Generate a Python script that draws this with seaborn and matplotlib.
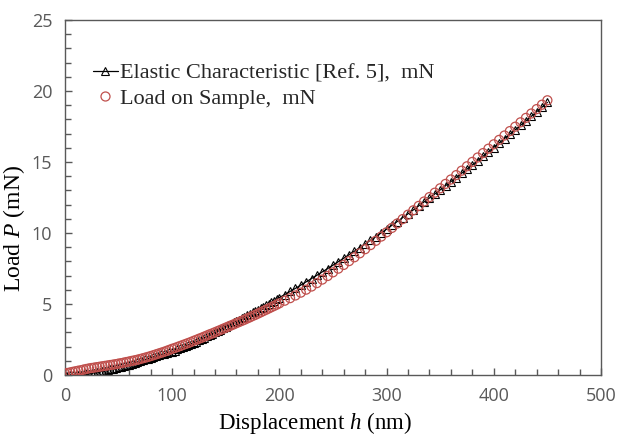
import numpy as np
import pandas as pd
import matplotlib
matplotlib.use("Agg")
import matplotlib.pyplot as plt
import seaborn as sns
from matplotlib.ticker import MultipleLocator
from matplotlib.lines import Line2D

# Displacement h (nm): 2.5 nm spacing up to 200 nm, 5 nm spacing afterwards
h_nm = [i * 2.5 for i in range(81)] + list(range(205, 455, 5))

# Elastic Characteristic [Ref. 5], mN
p_elastic = [0, 0, 0, 0, 0, 0.01, 0.023, 0.043, 0.066, 0.092,
             0.121, 0.152, 0.186, 0.222, 0.26, 0.30, 0.342, 0.386, 0.431, 0.478,
             0.526, 0.577, 0.628, 0.681, 0.735, 0.791, 0.848, 0.907, 0.967, 1.03,
             1.09, 1.15, 1.21, 1.27, 1.33, 1.39, 1.45, 1.50, 1.55, 1.60,
             1.65, 1.72, 1.80, 1.87, 1.95, 2.03, 2.11, 2.19, 2.27, 2.35,
             2.44, 2.53, 2.62, 2.71, 2.81, 2.90, 3.00, 3.10, 3.20, 3.30,
             3.40, 3.50, 3.60, 3.70, 3.80, 3.90, 4.01, 4.11, 4.21, 4.31,
             4.41, 4.51, 4.61, 4.71, 4.82, 4.92, 5.02, 5.12, 5.23, 5.34,
             5.45,
             5.66, 5.88, 6.10, 6.33, 6.56, 6.79, 7.02, 7.26, 7.49, 7.73,
             7.98, 8.22, 8.47, 8.72, 8.97, 9.23, 9.49, 9.75, 10.01, 10.27,
             10.54, 10.81, 11.08, 11.35, 11.63, 11.91, 12.19, 12.47, 12.75, 13.04,
             13.33, 13.62, 13.91, 14.21, 14.50, 14.80, 15.10, 15.41, 15.71, 16.02,
             16.33, 16.64, 16.95, 17.27, 17.58, 17.90, 18.22, 18.55, 18.87, 19.20]

# Load on Sample, mN
p_sample = [0.10, 0.14, 0.18, 0.22, 0.26, 0.30, 0.33, 0.38, 0.42, 0.46,
            0.49, 0.52, 0.55, 0.58, 0.61, 0.64, 0.67, 0.70, 0.73, 0.76,
            0.80, 0.83, 0.87, 0.91, 0.95, 0.99, 1.03, 1.07, 1.12, 1.17,
            1.22, 1.27, 1.33, 1.39, 1.45, 1.51, 1.57, 1.63, 1.70, 1.77,
            1.84, 1.90, 1.97, 2.04, 2.11, 2.18, 2.25, 2.32, 2.40, 2.47,
            2.55, 2.62, 2.70, 2.78, 2.86, 2.93, 3.01, 3.09, 3.17, 3.25,
            3.33, 3.41, 3.49, 3.57, 3.65, 3.73, 3.81, 3.89, 3.98, 4.06,
            4.15, 4.23, 4.32, 4.41, 4.50, 4.59, 4.68, 4.77, 4.86, 4.95,
            5.05,
            5.23, 5.41, 5.60, 5.80, 6.01, 6.23, 6.47, 6.72, 6.97, 7.23,
            7.49, 7.75, 8.02, 8.29, 8.57, 8.86, 9.15, 9.45, 9.75, 10.05,
            10.36, 10.67, 10.98, 11.29, 11.60, 11.91, 12.22, 12.53, 12.84, 13.15,
            13.46, 13.77, 14.08, 14.39, 14.70, 15.01, 15.32, 15.63, 15.94, 16.25,
            16.56, 16.87, 17.18, 17.49, 17.80, 18.11, 18.42, 18.73, 19.04, 19.35]

x_ticks = [0, 100, 200, 300, 400, 500]
y_ticks = [0, 5, 10, 15, 20, 25]

label_elastic = "Elastic Characteristic [Ref. 5],  mN"
label_sample = "Load on Sample,  mN"

df = pd.DataFrame({"h": h_nm, "elastic": p_elastic, "sample": p_sample})

sns.set_style("ticks")
plt.rcParams["font.family"] = ["DejaVu Sans"]
plt.rcParams["mathtext.fontset"] = "custom"
plt.rcParams["mathtext.it"] = "Liberation Serif:italic"
plt.rcParams["mathtext.rm"] = "Liberation Serif"
plt.rcParams["mathtext.default"] = "it"

fig = plt.figure(figsize=(6.18, 4.37), dpi=100)
ax = fig.add_axes([0.105, 0.142, 0.8675, 0.812])

red = "#C0504D"
sns.lineplot(data=df, x="h", y="elastic", ax=ax, color="black", linewidth=0.9,
             marker="^", markersize=5.5, markerfacecolor="none",
             markeredgecolor="black", markeredgewidth=0.8, legend=False, zorder=2)
sns.scatterplot(data=df, x="h", y="sample", ax=ax, marker="o", s=42,
                facecolors="none", edgecolor=red, linewidth=0.9, legend=False, zorder=3)

ax.set_xlim(0, 500)
ax.set_ylim(0, 25)
ax.set_xticks(x_ticks)
ax.set_yticks(y_ticks)
ax.xaxis.set_minor_locator(MultipleLocator(20))
ax.yaxis.set_minor_locator(MultipleLocator(1))

gray = "#595959"
for s in ax.spines.values():
    s.set_color(gray)
    s.set_linewidth(1.0)
    s.set_visible(True)

ax.tick_params(axis="both", which="major", direction="in", length=5, width=1,
               color=gray, labelcolor=gray, labelsize=13)
ax.tick_params(axis="x", which="major", pad=9)
ax.tick_params(axis="y", which="major", pad=9)
ax.tick_params(axis="both", which="minor", direction="in", length=4, width=1, color=gray)
ax.tick_params(top=False, right=False, which="both")
for lbl in ax.get_xticklabels() + ax.get_yticklabels():
    lbl.set_family("Open Sans")

serif = "Liberation Serif"
ax.set_xlabel("Displacement $h$ (nm)", fontsize=16.5, family=serif, color="black")
ax.set_ylabel("Load $P$ (mN)", fontsize=17, family=serif, color="black")
ax.xaxis.set_label_coords(0.466, -0.1)
ax.yaxis.set_label_coords(-0.07, 0.414)

handles = [
    Line2D([0], [0], color="black", linewidth=0.9, marker="^", markersize=5.5,
           markerfacecolor="none", markeredgecolor="black", markeredgewidth=0.8),
    Line2D([0], [0], linestyle="none", marker="o", markersize=6.5,
           markerfacecolor="none", markeredgecolor=red, markeredgewidth=0.9),
]
ax.legend(handles, [label_elastic, label_sample], loc="upper left",
          bbox_to_anchor=(0.036, 0.904), frameon=False,
          prop={"family": serif, "size": 16}, handlelength=1.1,
          handletextpad=0.1, labelspacing=0.2, borderaxespad=0)

fig.savefig("out.png", dpi=100)
